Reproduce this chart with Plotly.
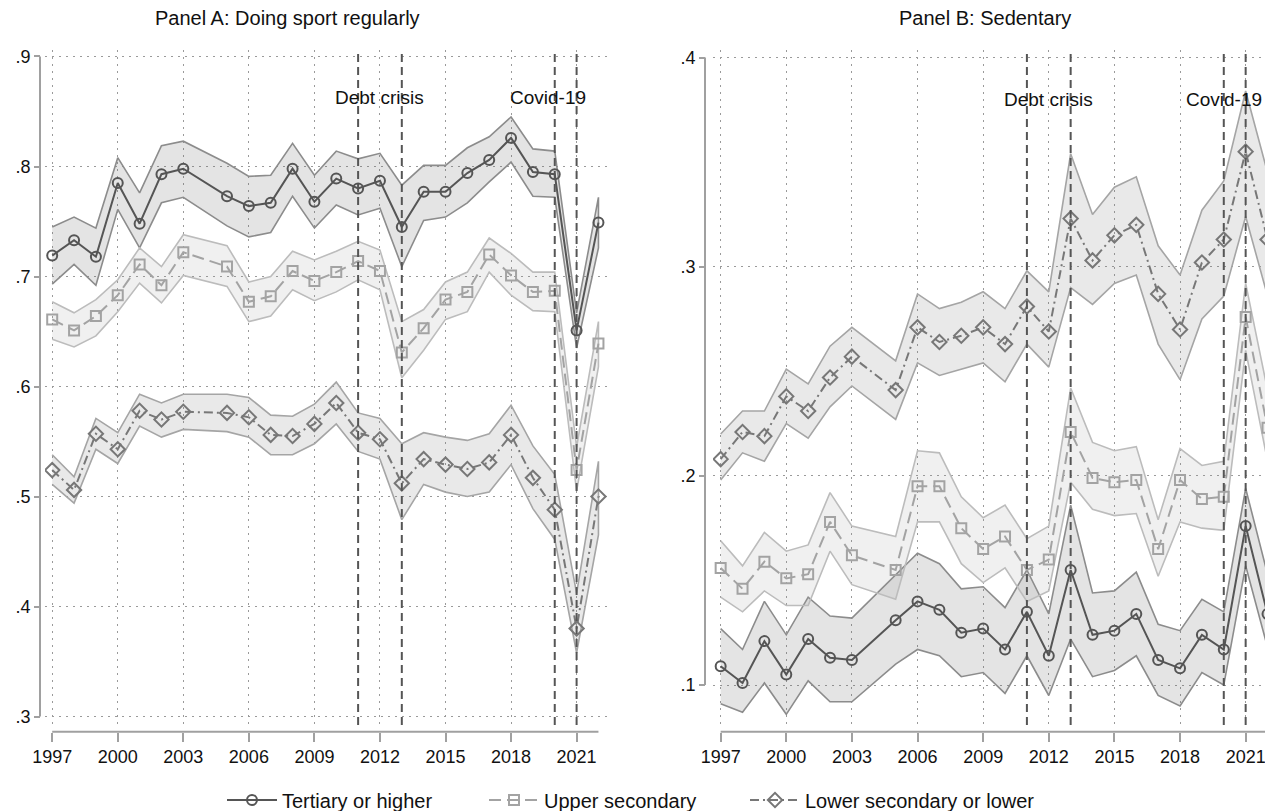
import plotly.graph_objects as go

# page is rendered with an 8px body margin: figure pixel = page pixel - 8
OFF = 8
W, H = 1273 - OFF, 811 - OFF

years = [1997, 1998, 1999, 2000, 2001, 2002, 2003, 2005, 2006, 2007, 2008, 2009,
         2010, 2011, 2012, 2013, 2014, 2015, 2016, 2017, 2018, 2019, 2020, 2021, 2022]

# Panel A: Doing sport regularly
a_ter = [0.719, 0.733, 0.718, 0.785, 0.748, 0.793, 0.798, 0.773, 0.764, 0.767, 0.798, 0.768,
         0.789, 0.780, 0.787, 0.745, 0.777, 0.777, 0.794, 0.806, 0.826, 0.795, 0.793, 0.651, 0.749]
a_ter_hi = [0.745, 0.754, 0.744, 0.808, 0.776, 0.819, 0.823, 0.803, 0.791, 0.792, 0.821, 0.792,
            0.814, 0.807, 0.812, 0.783, 0.801, 0.801, 0.817, 0.827, 0.845, 0.816, 0.814, 0.667, 0.772]
a_ter_lo = [0.693, 0.711, 0.692, 0.761, 0.726, 0.767, 0.772, 0.746, 0.736, 0.740, 0.773, 0.744,
            0.765, 0.756, 0.762, 0.709, 0.751, 0.754, 0.767, 0.786, 0.804, 0.773, 0.772, 0.635, 0.726]

a_ups = [0.661, 0.651, 0.664, 0.683, 0.711, 0.692, 0.722, 0.709, 0.677, 0.682, 0.705, 0.696,
         0.704, 0.714, 0.705, 0.631, 0.653, 0.679, 0.686, 0.720, 0.701, 0.686, 0.687, 0.524, 0.639]
a_ups_hi = [0.677, 0.667, 0.679, 0.697, 0.726, 0.709, 0.738, 0.728, 0.695, 0.700, 0.723, 0.715,
            0.723, 0.732, 0.724, 0.659, 0.670, 0.695, 0.704, 0.735, 0.721, 0.704, 0.704, 0.545, 0.659]
a_ups_lo = [0.643, 0.636, 0.646, 0.668, 0.694, 0.676, 0.701, 0.691, 0.659, 0.664, 0.688, 0.678,
            0.686, 0.697, 0.688, 0.608, 0.633, 0.661, 0.668, 0.704, 0.683, 0.669, 0.668, 0.505, 0.618]

a_low = [0.524, 0.506, 0.557, 0.543, 0.578, 0.570, 0.577, 0.576, 0.572, 0.556, 0.555, 0.566,
         0.585, 0.558, 0.552, 0.512, 0.534, 0.529, 0.525, 0.531, 0.556, 0.517, 0.488, 0.380, 0.500]
a_low_hi = [0.538, 0.518, 0.571, 0.558, 0.593, 0.585, 0.593, 0.593, 0.590, 0.574, 0.573, 0.584,
            0.604, 0.576, 0.571, 0.548, 0.558, 0.554, 0.551, 0.557, 0.583, 0.546, 0.520, 0.412, 0.532]
a_low_lo = [0.511, 0.494, 0.543, 0.530, 0.564, 0.554, 0.561, 0.559, 0.554, 0.538, 0.538, 0.548,
            0.566, 0.541, 0.534, 0.479, 0.511, 0.504, 0.500, 0.504, 0.529, 0.489, 0.461, 0.358, 0.465]

# Panel B: Sedentary
b_ter = [0.109, 0.101, 0.121, 0.105, 0.122, 0.113, 0.112, 0.131, 0.140, 0.136, 0.125, 0.127,
         0.117, 0.135, 0.114, 0.155, 0.124, 0.126, 0.134, 0.112, 0.108, 0.124, 0.117, 0.176, 0.134]
b_ter_hi = [0.127, 0.117, 0.140, 0.124, 0.142, 0.133, 0.132, 0.153, 0.163, 0.158, 0.146, 0.147,
            0.137, 0.155, 0.134, 0.186, 0.144, 0.145, 0.154, 0.129, 0.126, 0.141, 0.135, 0.194, 0.153]
b_ter_lo = [0.091, 0.087, 0.101, 0.086, 0.102, 0.092, 0.092, 0.110, 0.117, 0.114, 0.104, 0.106,
            0.096, 0.114, 0.095, 0.122, 0.104, 0.107, 0.114, 0.095, 0.090, 0.106, 0.100, 0.157, 0.118]

b_ups = [0.156, 0.146, 0.159, 0.151, 0.153, 0.178, 0.162, 0.155, 0.195, 0.195, 0.175, 0.165,
         0.171, 0.155, 0.160, 0.221, 0.199, 0.197, 0.198, 0.165, 0.198, 0.189, 0.190, 0.276, 0.223]
b_ups_hi = [0.169, 0.157, 0.173, 0.164, 0.167, 0.192, 0.176, 0.171, 0.212, 0.211, 0.190, 0.180,
            0.186, 0.170, 0.176, 0.242, 0.216, 0.212, 0.214, 0.179, 0.213, 0.205, 0.207, 0.292, 0.241]
b_ups_lo = [0.142, 0.135, 0.145, 0.138, 0.138, 0.164, 0.148, 0.141, 0.178, 0.178, 0.158, 0.149,
            0.156, 0.140, 0.145, 0.197, 0.184, 0.181, 0.182, 0.152, 0.178, 0.175, 0.174, 0.260, 0.207]

b_low = [0.208, 0.221, 0.219, 0.238, 0.231, 0.247, 0.257, 0.241, 0.271, 0.264, 0.267, 0.271,
         0.263, 0.281, 0.269, 0.323, 0.303, 0.315, 0.320, 0.287, 0.270, 0.302, 0.313, 0.355, 0.313]
b_low_hi = [0.220, 0.231, 0.231, 0.251, 0.244, 0.262, 0.271, 0.255, 0.287, 0.280, 0.283, 0.288,
            0.280, 0.298, 0.288, 0.354, 0.325, 0.338, 0.343, 0.310, 0.296, 0.327, 0.341, 0.384, 0.345]
b_low_lo = [0.198, 0.211, 0.207, 0.225, 0.218, 0.233, 0.243, 0.227, 0.254, 0.248, 0.251, 0.254,
            0.245, 0.263, 0.252, 0.290, 0.282, 0.292, 0.296, 0.263, 0.246, 0.275, 0.286, 0.324, 0.286]

series_names = ["Tertiary or higher", "Upper secondary", "Lower secondary or lower"]
event_years = [2011, 2013, 2020, 2021]
event_labels = ["Debt crisis", "Covid-19"]
x_ticks = [1997, 2000, 2003, 2006, 2009, 2012, 2015, 2018, 2021]
a_yticks = [0.3, 0.4, 0.5, 0.6, 0.7, 0.8, 0.9]
b_yticks = [0.1, 0.2, 0.3, 0.4]
panel_titles = ["Panel A: Doing sport regularly", "Panel B: Sedentary"]

FONT = "Liberation Sans, Arial, sans-serif"


def PX(p):  # page x pixel -> paper fraction
    return (p - OFF) / W


def PY(p):  # page y pixel -> paper fraction
    return 1 - (p - OFF) / H


styles = [
    dict(line="#555555", dash="solid", sym="circle-open", band="rgba(95,95,95,0.17)", edge="#8c8c8c", msize=10),
    dict(line="#a3a3a3", dash="12px,6px", sym="square-open", band="rgba(150,150,150,0.14)", edge="#bcbcbc", msize=10),
    dict(line="#777777", dash="9px,4px,2px,4px", sym="diamond-open", band="rgba(120,120,120,0.16)", edge="#a5a5a5", msize=11),
]
legend_ids = ["legend", "legend2", "legend3"]
legend_left_px = [222, 484, 745]

fig = go.Figure()

panels = [
    ("x", "y", [(a_ter, a_ter_hi, a_ter_lo), (a_ups, a_ups_hi, a_ups_lo), (a_low, a_low_hi, a_low_lo)], True),
    ("x2", "y2", [(b_ter, b_ter_hi, b_ter_lo), (b_ups, b_ups_hi, b_ups_lo), (b_low, b_low_hi, b_low_lo)], False),
]

for xa, ya, data, show in panels:
    for (m, hi, lo), st in zip(data, styles):
        fig.add_trace(go.Scatter(
            x=years + years[::-1], y=hi + lo[::-1], fill="toself", fillcolor=st["band"],
            mode="lines", line=dict(color=st["edge"], width=1.6), xaxis=xa, yaxis=ya,
            showlegend=False, hoverinfo="skip"))
    for (m, hi, lo), st, name, lg in zip(data, styles, series_names, legend_ids):
        fig.add_trace(go.Scatter(
            x=years, y=m, mode="lines+markers", name=name, legendgroup=name, legend=lg,
            line=dict(color=st["line"], width=2, dash=st["dash"]),
            marker=dict(symbol=st["sym"], size=st["msize"], color=st["line"], line=dict(width=2, color=st["line"])),
            xaxis=xa, yaxis=ya, showlegend=show))

dom_y = [PY(725), PY(50)]
axis_y = PY(731.7)
GRID = "2px,5px"

common_x = dict(tickvals=x_ticks, ticks="outside", ticklen=9, tickwidth=1.5, tickcolor="#a0a0a0",
                showgrid=True, gridcolor="#9a9a9a", griddash=GRID, gridwidth=1, showline=False,
                zeroline=False, tickfont=dict(size=18, color="#111", family=FONT),
                anchor="free", position=axis_y, automargin=False)
common_y = dict(ticks="outside", ticklen=6, tickwidth=1.5, tickcolor="#a0a0a0",
                showgrid=True, gridcolor="#9a9a9a", griddash=GRID, gridwidth=1, showline=False,
                zeroline=False, tickfont=dict(size=18, color="#111", family=FONT), anchor="free",
                automargin=False)

legend_layout = {}
for lg, lx in zip(legend_ids, legend_left_px):
    legend_layout[lg] = dict(orientation="h", x=PX(lx), xanchor="left", y=PY(800), yanchor="middle",
                             font=dict(size=20, color="#111"), itemwidth=50,
                             bgcolor="rgba(0,0,0,0)")

fig.update_layout(
    width=W, height=H, margin=dict(l=0, r=0, t=0, b=0, autoexpand=False),
    paper_bgcolor="white", plot_bgcolor="white",
    font=dict(family=FONT, size=18, color="#111"),
    xaxis=dict(domain=[PX(45), PX(612)], range=[1996.67, 2022.62], **common_x),
    yaxis=dict(domain=dom_y, range=[0.2923, 0.9059], tickvals=a_yticks,
               ticktext=[("%.1f" % v)[1:] for v in a_yticks], position=PX(40), **common_y),
    xaxis2=dict(domain=[PX(713), 1.0], range=[1996.65, 2022.25], **common_x),
    yaxis2=dict(domain=dom_y, range=[0.0809, 0.4036], tickvals=b_yticks,
                ticktext=[("%.1f" % v)[1:] for v in b_yticks], position=PX(705), **common_y),
    showlegend=True,
    **legend_layout,
)

shapes = []
# axis lines
for xa in ["x", "x2"]:
    shapes.append(dict(type="line", xref=xa, yref="paper", x0=years[0], x1=years[-1],
                       y0=axis_y, y1=axis_y, line=dict(color="#a0a0a0", width=2)))
for ya, yticks, xpos in [("y", a_yticks, PX(40)), ("y2", b_yticks, PX(705))]:
    shapes.append(dict(type="line", xref="paper", yref=ya, x0=xpos, x1=xpos,
                       y0=min(yticks), y1=max(yticks), line=dict(color="#a0a0a0", width=2)))
# event lines
for xa, ya in [("x", "y"), ("x2", "y2")]:
    for ey in event_years:
        shapes.append(dict(type="line", xref=xa, yref=ya + " domain", x0=ey, x1=ey, y0=0, y1=1,
                           line=dict(color="#555555", width=2, dash="8px,5px")))
fig.update_layout(shapes=shapes)

ann = []
for t, xc in zip(panel_titles, [287, 985]):
    ann.append(dict(text=t, x=PX(xc), y=PY(18), xref="paper", yref="paper", xanchor="center",
                    yanchor="middle", showarrow=False, font=dict(size=20, color="#111")))
for xa, ya, yv, xc in [("x", "y", 0.863, 2019.7), ("x2", "y2", 0.38, 2020.0)]:
    ann.append(dict(text=event_labels[0], x=2012, y=yv, xref=xa, yref=ya, showarrow=False,
                    xanchor="center", yanchor="middle", font=dict(size=19, color="#111")))
    ann.append(dict(text=event_labels[1], x=xc, y=yv, xref=xa, yref=ya, showarrow=False,
                    xanchor="center", yanchor="middle", font=dict(size=19, color="#111")))
fig.update_layout(annotations=ann)

fig.write_html("out.html")
